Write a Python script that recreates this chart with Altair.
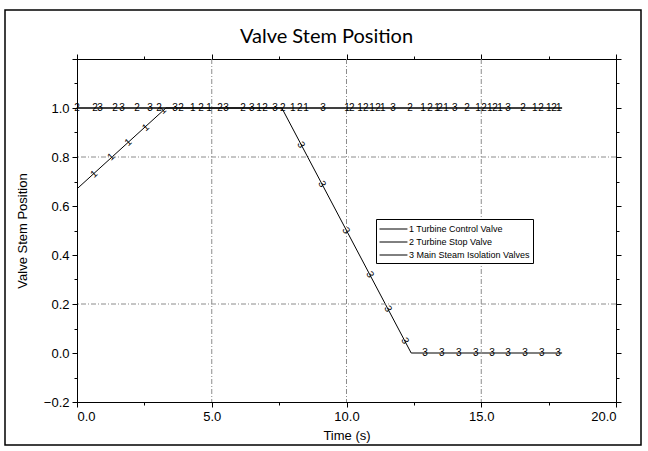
import altair as alt
import pandas as pd

# Curve breakpoints (time in s, normalised stem position)
tcv_t = [0.0, 3.3, 18.0]
tcv_v = [0.67, 1.0, 1.0]
tsv_t = [0.0, 18.0]
tsv_v = [1.0, 1.0]
msiv_t = [0.0, 7.6, 12.4, 18.0]
msiv_v = [1.0, 1.0, 0.0, 0.0]

series_names = [
    "1 Turbine Control Valve",
    "2 Turbine Stop Valve",
    "3 Main Steam Isolation Valves",
]

# Curve-number markers printed along the curves
ramp_t = [0.63, 1.26, 1.90, 2.55, 3.18]
ramp_v = [0.73, 0.80, 0.86, 0.92, 0.99]
fall_t = [8.31, 9.09, 9.98, 10.87, 11.54, 12.17]
fall_v = [0.85, 0.69, 0.50, 0.32, 0.18, 0.05]
floor_t = [12.91, 13.54, 14.17, 14.80, 15.40, 15.99, 16.62, 17.25, 17.85]
top_t = [0.0, 0.67, 0.85, 1.41, 1.67, 2.23, 2.71, 3.04, 3.64, 3.86, 4.30, 4.60,
         4.90, 5.31, 5.53, 6.16, 6.49, 6.75, 6.98, 7.35, 7.64, 8.01, 8.27, 8.50,
         9.13, 10.02, 10.20, 10.50, 10.72, 10.95, 11.17, 11.35, 11.73, 12.36,
         12.84, 13.10, 13.36, 13.47, 13.69, 14.02, 14.47, 14.88, 15.10, 15.32,
         15.51, 15.70, 15.99, 16.55, 16.99, 17.22, 17.51, 17.70, 17.88]
top_lab = ["2", "2", "3", "2", "3", "2", "3", "2", "3", "2", "1", "2",
           "1", "2", "3", "2", "3", "1", "2", "3", "2", "1", "2", "1",
           "3", "1", "2", "1", "2", "1", "2", "1", "3", "2",
           "1", "2", "1", "2", "1", "3", "2", "1", "2", "1",
           "2", "1", "3", "2", "1", "2", "1", "2", "1"]

# Axis tick positions and gridlines
x_ticks = [0, 2.5, 5, 7.5, 10, 12.5, 15, 17.5, 20]
y_ticks = [-0.2, -0.1, 0.0, 0.1, 0.2, 0.3, 0.4, 0.5, 0.6, 0.7, 0.8, 0.9, 1.0, 1.1, 1.2]
x_grid = [5, 10, 15]
y_grid = [0.2, 0.8]

curves = pd.concat([
    pd.DataFrame({"t": tcv_t, "v": tcv_v, "series": series_names[0]}),
    pd.DataFrame({"t": tsv_t, "v": tsv_v, "series": series_names[1]}),
    pd.DataFrame({"t": msiv_t, "v": msiv_v, "series": series_names[2]}),
], ignore_index=True)

labels = pd.concat([
    pd.DataFrame({"t": ramp_t, "v": ramp_v, "lab": "1", "ang": 318}),
    pd.DataFrame({"t": fall_t, "v": fall_v, "lab": "3", "ang": 62}),
    pd.DataFrame({"t": floor_t, "v": [0.0] * len(floor_t), "lab": "3", "ang": 0}),
    pd.DataFrame({"t": top_t, "v": [1.0] * len(top_t), "lab": top_lab, "ang": 0}),
], ignore_index=True)

xs = alt.Scale(domain=[0, 20], nice=False, zero=False)
ys = alt.Scale(domain=[-0.2, 1.2], nice=False, zero=False)

x_major = "datum.value % 5 == 0"
y_major = "abs(round(datum.value * 10)) % 2 == 0"
y_shown = f"{y_major} && datum.value < 1.1"

lines = alt.Chart(curves).mark_line(strokeWidth=1).encode(
    x=alt.X("t:Q", scale=xs, title="Time (s)",
            axis=alt.Axis(orient="bottom", values=x_ticks, format=".1f",
                          labelExpr=f"{x_major} ? datum.label : ''",
                          tickSize={"condition": {"test": x_major, "value": 5}, "value": 3},
                          labelPadding=3, titlePadding=6)),
    y=alt.Y("v:Q", scale=ys, title="Valve Stem Position",
            axis=alt.Axis(orient="left", values=y_ticks, format=".1f",
                          labelExpr=f"{y_shown} ? datum.label : ''",
                          tickSize={"condition": {"test": y_major, "value": 5}, "value": 3},
                          labelPadding=3, titlePadding=14)),
    color=alt.Color("series:N",
                    scale=alt.Scale(domain=series_names, range=["black", "black", "black"]),
                    legend=alt.Legend(orient="none", legendX=299, legendY=160, title=None,
                                      symbolType="M-1,0H3.3", symbolSize=169,
                                      symbolStrokeWidth=1, symbolStrokeColor="black",
                                      symbolFillColor="black",
                                      labelFont="Liberation Sans", labelFontSize=9,
                                      labelColor="black", labelOffset=16, labelLimit=0,
                                      rowPadding=1, padding=3,
                                      strokeColor="black", fillColor="white")),
    order="t:Q",
)

frame_ticks = alt.Chart(curves).mark_point(opacity=0).encode(
    x=alt.X("t:Q", scale=xs, title=None,
            axis=alt.Axis(orient="top", values=x_ticks, labels=False,
                          tickSize={"condition": {"test": x_major, "value": 5}, "value": 3})),
    y=alt.Y("v:Q", scale=ys, title=None,
            axis=alt.Axis(orient="right", values=y_ticks, labels=False,
                          tickSize={"condition": {"test": y_major, "value": 5}, "value": 3})),
)

grid_dash = [5, 2, 1, 2]
vgrid = alt.Chart(pd.DataFrame({"t": x_grid})).mark_rule(
    color="#8c8c8c", strokeWidth=1, strokeDash=grid_dash
).encode(x=alt.X("t:Q", scale=xs, axis=None))
hgrid = alt.Chart(pd.DataFrame({"v": y_grid})).mark_rule(
    color="#8c8c8c", strokeWidth=1, strokeDash=grid_dash
).encode(y=alt.Y("v:Q", scale=ys, axis=None))

markers = alt.Chart(labels).mark_text(
    font="Liberation Sans", fontSize=10, color="black", align="center", baseline="middle"
).encode(
    x=alt.X("t:Q", scale=xs, axis=None),
    y=alt.Y("v:Q", scale=ys, axis=None),
    text="lab:N",
    angle=alt.Angle("ang:Q", scale=None),
)

# Page border around the whole figure
border = alt.Chart(pd.DataFrame({"k": [0]})).mark_rect(
    fillOpacity=0, stroke="black", strokeWidth=1.5
).encode(x=alt.value(-72), x2=alt.value(564), y=alt.value(-49), y2=alt.value(386))

chart = alt.layer(lines, frame_ticks, vgrid, hgrid, markers, border).resolve_axis(
    x="independent", y="independent"
).properties(
    width=539,
    height=343,
    autosize=alt.AutoSizeParams(type="none"),
    padding={"left": 77, "top": 59, "right": 32, "bottom": 49},
    title=alt.TitleParams("Valve Stem Position", font="Lato", fontSize=20,
                          fontWeight="normal", color="black", anchor="middle",
                          frame="group", dx=-20, offset=-38),
).configure_view(
    stroke="black", strokeWidth=1
).configure_axis(
    grid=False, domainColor="black", domainWidth=1, tickColor="black",
    labelFont="Liberation Sans", labelFontSize=13, labelColor="black",
    titleFont="Liberation Sans", titleFontSize=13, titleFontWeight="normal",
    titleColor="black",
)

chart.save("out.html", embed_options={"renderer": "svg", "actions": False})
